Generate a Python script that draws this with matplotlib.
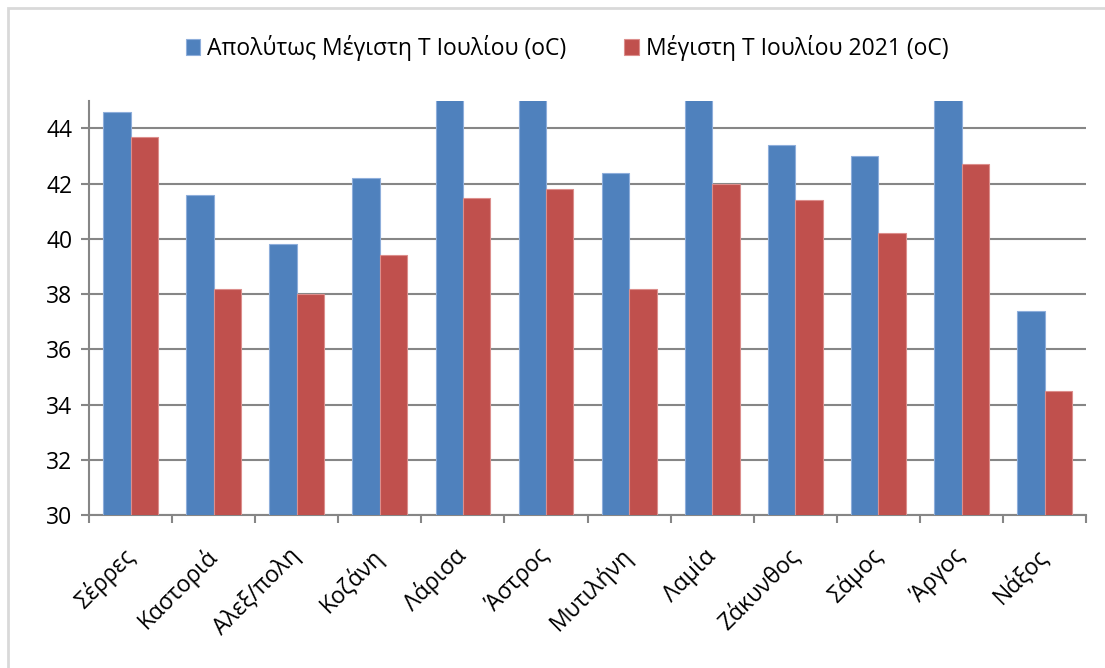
import numpy as np
import matplotlib
matplotlib.use('Agg')
import matplotlib.pyplot as plt
from matplotlib.patches import Rectangle
from matplotlib.transforms import ScaledTranslation

plt.rcParams['font.family'] = ['Open Sans', 'DejaVu Sans']

# data (bars above 45 are clipped by the axis)
cities = ['Σέρρες', 'Καστοριά', 'Αλεξ/πολη', 'Κοζάνη', 'Λάρισα', 'Άστρος',
          'Μυτιλήνη', 'Λαμία', 'Ζάκυνθος', 'Σάμος', 'Άργος', 'Νάξος']
abs_max = [44.6, 41.6, 39.8, 42.2, 45.6, 45.4, 42.4, 45.6, 43.4, 43.0, 45.5, 37.4]
max_2021 = [43.7, 38.2, 38.0, 39.4, 41.5, 41.8, 38.2, 42.0, 41.4, 40.2, 42.7, 34.5]
label_abs = 'Απολύτως Μέγιστη Τ Ιουλίου (oC)'
label_2021 = 'Μέγιστη Τ Ιουλίου 2021 (oC)'

fig = plt.figure(figsize=(11.05, 6.68), dpi=100)
ax = fig.add_axes([0.0805, 0.229, 0.9025, 0.62])

# light grey chart-area frame (only left/top edges are inside the picture)
fig.patches.append(Rectangle((8/1105, -0.2), 1.2, 1.2 - 8/668, transform=fig.transFigure,
                             fill=False, edgecolor='#d9d9d9', linewidth=2, zorder=0))

x = np.arange(len(cities))
w = 0.33
ax.bar(x - w/2, abs_max, w, color='#4f81bd', edgecolor='#8eaedb',
       linewidth=0.8, label=label_abs, zorder=3)
ax.bar(x + w/2, max_2021, w, color='#c0504d', edgecolor='#dc8e8c',
       linewidth=0.8, label=label_2021, zorder=3)

ax.set_ylim(30, 45)
ax.set_xlim(-0.5, len(cities) - 0.5)
ax.set_yticks(np.arange(30, 45, 2))
ax.yaxis.grid(True, color='#868686', linewidth=1.5, zorder=0)
ax.set_axisbelow(True)

for s in ['top', 'right']:
    ax.spines[s].set_visible(False)
for s in ['left', 'bottom']:
    ax.spines[s].set_color('#868686')
    ax.spines[s].set_linewidth(1.5)

ax.set_xticks(np.arange(len(cities) + 1) - 0.5, minor=False)
ax.set_xticklabels([])
ax.set_xticks(x, minor=True)
ax.set_xticklabels(cities, minor=True, rotation=45, ha='right', va='center',
                   rotation_mode='anchor', fontsize=16.5)
shift = ScaledTranslation(9/100, 0, fig.dpi_scale_trans)
for lab in ax.get_xticklabels(minor=True):
    lab.set_transform(lab.get_transform() + shift)
ax.tick_params(axis='x', which='minor', length=0, pad=27)
ax.tick_params(axis='x', which='major', length=6, width=1.5, color='#868686', direction='out')
ax.tick_params(axis='y', length=6, width=1.5, color='#868686', labelsize=16.5, pad=6)

fig.legend(loc='center', bbox_to_anchor=(0.513, 0.928), ncol=2, frameon=False,
           fontsize=16.5, handlelength=0.65, handleheight=0.65, handletextpad=0.3,
           columnspacing=2.5)

fig.savefig('out.png', dpi=100)
